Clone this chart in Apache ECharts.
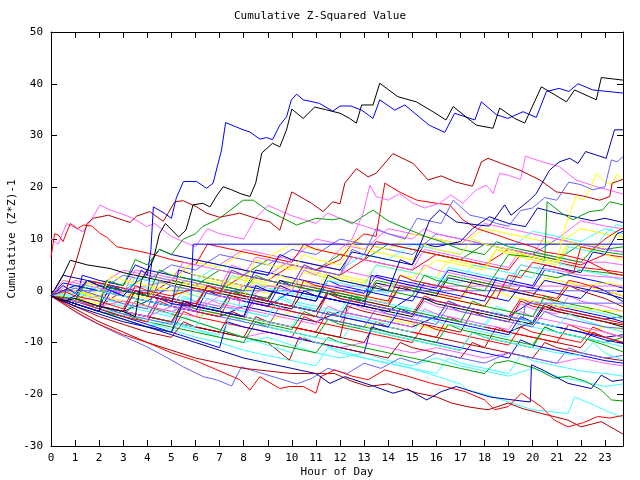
<!DOCTYPE html>
<html>
<head>
<meta charset="utf-8">
<script src="https://cdn.jsdelivr.net/npm/echarts@6/dist/echarts.min.js"></script>
<style>html,body{margin:0;padding:0;background:#fff}#c{width:640px;height:480px}</style>
</head>
<body>
<div id="c"></div>
<script>
// ---- axis / text ----
const TITLE = 'Cumulative Z-Squared Value';
const X_NAME = 'Hour of Day';
const Y_NAME = 'Cumulative (Z*Z)-1';
const X_MIN = 0, X_MAX = 23.75, Y_MIN = -30, Y_MAX = 50;

// ---- series data: [hour, cumulative value] ----
const L01 = [[0,-1],[0.5,-2],[1,-1.5],[2,-3],[3,-4],[3.5,-5],[3.75,2],[4.25,6],[4.5,11],[4.75,13],[5.3,10.4],[5.6,11.7],[5.9,16.6],[6.3,16.9],[6.6,16.2],[6.9,18.5],[7.15,20.1],[7.5,19.5],[7.85,18.8],[8.26,18.2],[8.5,20.8],[8.75,26.6],[9.2,28.5],[9.5,27.8],[9.78,31.1],[10,35.1],[10.47,33.3],[10.95,35.5],[11.4,35.0],[12,34.3],[12.4,33.3],[12.68,32.4],[12.9,35.9],[13.37,35.9],[13.65,40.1],[14.4,37.5],[15.17,36.5],[15.86,34.6],[16.4,33.0],[16.7,35.6],[17.66,32.0],[18.35,31.4],[18.63,35.3],[19.25,33.3],[19.67,32.4],[20.36,39.4],[20.8,38.2],[21.4,36.5],[21.74,38.8],[22.64,36.9],[22.85,41.2],[23.75,40.7]];
const L02 = [[0,-1],[0.5,1],[1,-0.5],[1.5,2],[2,1],[2.5,0],[3,-1],[3.5,1.5],[3.75,4],[4,3],[4.15,8],[4.25,16.2],[4.7,15],[5,14],[5.2,17.9],[5.5,21.1],[6.05,21.1],[6.46,19.8],[6.73,20.8],[7.08,27.2],[7.25,32.5],[7.98,31.1],[8.25,30.7],[8.67,29.3],[8.95,29.6],[9.2,29.2],[9.5,32.0],[9.78,33.6],[9.98,36.9],[10.2,38.0],[10.47,36.9],[10.88,36.5],[11.15,36.2],[11.7,34.7],[12,35.7],[12.45,35.7],[12.9,34.9],[13.37,33.3],[13.65,36.9],[14.27,34.9],[14.69,35.9],[15.7,32.0],[16.35,30.6],[16.76,34.3],[17.6,33.0],[17.87,36.5],[18.5,34.0],[18.97,33.3],[19.6,34.6],[20.15,33.5],[20.57,38.5],[21.1,39.1],[21.5,38.5],[21.88,40.0],[22.5,38.8],[23.75,38.2]];
const L03 = [[0,-1],[1,-3],[2,-4.5],[3,-6],[4,-7],[5,-8],[5.5,-2],[6,-3],[7,-4],[8,-5],[8.5,1],[9,0],[10,-1],[11,-2],[11.5,3],[12,2],[13,1],[14,0],[14.5,6],[15,5],[15.73,13.7],[16.14,15.6],[16.83,13.3],[17.73,12.7],[18.2,12.5],[18.84,16.6],[19.1,14.6],[19.87,17.5],[20.15,18.8],[20.7,23.3],[21.1,24.9],[21.54,25.6],[21.88,24.6],[22.2,26.9],[23.05,25.6],[23.4,31.1],[23.75,31.1]];
const L04 = [[0,-1],[1,0.5],[2,-1],[3,-2.5],[4,-3.5],[4.5,2],[5,1],[6,0],[7,-1],[7.5,4],[8,3],[9,2],[10,1],[10.5,5],[11,4],[12,3],[12.5,8],[13,7],[13.5,12],[14,11],[14.7,10],[15.2,14],[15.7,13.5],[16.2,13],[16.7,17.5],[17.4,14.6],[18,14],[18.5,13],[19,12.5],[19.5,15.5],[20,16],[20.5,18],[21,17.5],[21.5,21],[22,20.5],[22.5,19.5],[23,20.1],[23.27,25.3],[23.5,24.9],[23.75,25.9]];
const L05 = [[0,-1],[0.5,-1.5],[1,5],[1.5,13],[1.75,14],[2.38,14.6],[3.28,13.2],[3.55,14.4],[4.1,15.3],[4.66,13.4],[5.14,17.2],[5.49,17.4],[6.05,16.2],[6.46,15.0],[7.0,14.2],[7.84,15.0],[8.5,14],[9.09,13.3],[9.5,11.7],[10.0,19.1],[10.82,16.9],[11.3,15.3],[11.7,17.2],[12.0,16.8],[12.2,20.8],[12.68,23.6],[13.17,22.0],[13.5,22.7],[14.2,26.5],[15.04,24.6],[15.66,21.4],[16.2,22.2],[16.8,21.0],[17.5,20.2],[17.87,24.9],[18.15,25.6],[18.7,24.6],[19.46,23.3],[20.3,21.4],[20.98,19.1],[21.5,18.8],[22.1,18.3],[22.78,17.5],[23.2,18.2],[23.3,20.8],[23.75,21.5]];
const L06 = [[0,-1],[0.5,1],[1,0],[2,-1.5],[2.5,3],[3,2],[4,1],[5,0],[5.5,4],[6,3],[7,2],[8,1],[8.5,6],[9,5],[10,4],[10.5,7],[11,6],[12,5],[12.5,9],[13,8],[14,7],[15,6],[15.5,9],[16,8],[17,7],[17.5,10],[18,9],[19,8],[20,6.5],[21,5.5],[21.4,13],[21.8,18.2],[22.1,17.5],[22.44,20.1],[22.64,22.7],[23,21],[23.3,20.5],[23.5,22.5],[23.75,21.4]];
const L07 = [[0,-1],[1,-2],[2,-3],[3,-4],[4,-5],[5,-3],[6,-4],[7,-1],[8,-2],[9,1],[10,0],[10.5,4],[11,3],[12,8],[12.5,10],[12.96,15.0],[13.24,20.4],[13.5,18.2],[14,17.5],[14.48,18.8],[15,17],[15.5,16],[16.14,16.9],[16.6,18.5],[17.1,16.9],[17.66,19.5],[18.08,20.4],[18.36,18.8],[18.63,22.7],[19.0,22.3],[19.5,21.5],[19.7,26],[20.4,24.9],[21.1,24.0],[21.8,21.4],[22.65,20.1],[23.75,18.7]];
const L08 = [[0,-1],[1,-2],[1.5,2],[2,1],[3,0],[4,-1],[4.5,4],[5,3],[6,2],[7,1],[8,0],[8.5,3],[9,2],[10,1],[11,0],[12,-1],[13,-2],[13.5,1],[14,0],[15,-1],[15.5,3],[16,2],[17,1],[18,0],[18.5,3.5],[19,7],[20,6.5],[20.5,5.9],[20.6,17.2],[21.2,15],[21.67,13.7],[22,14.5],[22.36,15.3],[22.9,15.6],[23.2,17.2],[23.75,16.6]];
const L09 = [[0,-1],[1,-2],[2,-3],[2.3,2],[3,1],[3.5,6],[4,5],[4.5,8],[5,7],[5.5,10],[6,11],[6.3,12.4],[7,14],[7.98,17.5],[8.4,17.5],[9,15.5],[10.2,12.7],[11,14],[11.7,13.7],[12,14],[12.5,13],[13.37,15.6],[14,13.5],[14.5,12.5],[15.6,10.4],[16.2,9.5],[17,8],[18,7],[18.5,9.5],[19,8.5],[20,7.5],[21,6.5],[22,5.5],[22.5,8],[23,7.5],[23.75,7]];
const L10 = [[0,-1],[1,-2.5],[2,-4],[2.2,1],[3,0],[4,-1],[4.2,6],[4.5,8],[5,7],[6,6],[7,5],[8,4],[9,3],[9.5,7],[10,6],[11,5],[12,4],[12.5,7.5],[13,7],[14,6],[15,5],[15.5,9],[16,8.5],[17,9.5],[17.5,12],[18.2,14.3],[19,13],[19.7,12.4],[20.2,16],[21,15],[22,14],[22.5,13.5],[23,14],[23.75,13.2]];
const L11 = [[0,-1],[1,-2],[2,-3],[3,-4],[3.5,0],[4,-1],[5,-2],[6,-3],[6.5,1],[7,0],[8,-1],[9,-2],[10,-3],[10.5,2],[11,1],[12,0],[13,-1],[14,-2],[14.5,3],[15,2],[16,1],[17,0],[18,-1],[18.5,-1.5],[19,3],[19.5,2.5],[20,5.5],[21,4.5],[21.7,3.5],[22,8.5],[22.5,8],[23,10],[23.5,11.5],[23.75,12.1]];
const L12 = [[0,-1],[0.5,0],[1,-1],[2,-2],[3,-3.5],[3.5,1],[4,0],[5,-1],[6,0.5],[7,-0.5],[7.5,4],[8,3],[9,2],[10,1],[10.5,5],[11,4],[12,6],[12.5,9],[13,11],[13.5,10.5],[13.86,20.8],[14.5,19],[15.2,17.5],[16,16.9],[16.56,16.6],[17.1,13.7],[17.7,12],[18.5,10.8],[19.3,9.5],[20,8.5],[20.5,7.5],[21.3,6.9],[22.2,5.9],[22.8,4.5],[23.2,3.5],[23.75,3.0]];
const L13 = [[0,-1],[0.5,-2],[1,-1],[1.5,2],[2,1],[3,0],[4,-1],[4.5,-1.5],[5,-2.5],[5.8,-3],[5.9,9],[23.75,9]];
const L14 = [[0,-1],[1,-2],[1.5,1],[2,0],[3,-1],[4,-2],[5,-3],[5.5,0],[6,-1],[7,-2],[8,-3],[8.5,1],[9,0.5],[10,-0.5],[11,-1.5],[11.5,2],[12,1.5],[13,0.5],[14,-0.5],[14.5,3],[15,2],[16,1],[16.5,4.5],[17,4],[18,3],[19,2],[19.5,5],[20,4.5],[21,3.5],[21.5,8.5],[22,8],[22.5,7.5],[23,11],[23.5,12.8],[23.75,12.5]];
const L15 = [[0,-1],[1,1],[2,0],[3,-1],[4,-2],[5,-3],[6,-4],[6.5,0],[7,-1],[8,-2],[9,-3],[9.5,1],[10,0],[11,-1],[12,-2],[13,-3],[13.3,3],[14,2],[15,1],[16,0],[17,-1],[18,-2],[18.5,2.5],[19,2],[20,1],[20.5,5],[21,4.5],[22,3.5],[22.5,7.5],[23,7],[23.5,11],[23.75,11.5]];
const L16 = [[0,-1],[1,-2],[2,0],[3,-1],[4,-2],[4.5,1.5],[5,1],[6,0],[7,-1],[7.5,2.5],[8,2],[9,1],[10,0.5],[10.5,3.5],[11,3],[12,2],[13,1],[14,0],[14.5,3],[15,2.5],[16,6],[17,5],[18,4],[18.5,8],[19,7],[20,6],[21,5],[21.5,9],[22,8.5],[23,7],[23.75,5.9]];
const L17 = [[0,-1],[0.5,2],[1,1.5],[2,0.5],[3,-0.5],[3.5,4],[4,3.5],[5,2.5],[6,1.5],[7,0.5],[7.5,5],[8,4],[9,3],[10,6],[11,5],[12,4],[13,3],[14,2],[15,1],[15.5,5],[16,4],[17,3],[18,2],[19,1],[19.5,5],[20,4.5],[21,4],[22,3],[23,2.7],[23.75,2.4]];
const L18 = [[0,-1],[1,-2],[2,-3],[3,-2],[4,-3],[5,-4],[6,-2],[7,-3],[7.8,-3.5],[7.9,0.9],[23.75,0.9]];
const L19 = [[0,-1],[0.25,0],[23.75,0]];
const L20 = [[0,-1],[1,-2],[2,-3],[3,-4],[3.5,0],[4,-1],[5,-2],[6,-3],[6.5,1],[7,0],[8,-1],[9,-2],[9.5,2],[10,1],[11,0],[12,-1],[13,-2],[13.5,1.5],[14,1],[15,0],[16,-1],[16.5,2.5],[17,2],[18,1],[19,0],[20,-1],[20.5,2],[21,1.5],[22,0.5],[23,-0.5],[23.75,-1.5]];
const L21 = [[0,-1],[1,-2.5],[2,-4],[2.5,0],[3,-1],[4,-2],[5,-3],[5.3,4],[6,3],[7,2],[8,1],[9,0],[10,-1],[11,-2],[11.5,2],[12,1],[13,0],[14,-1],[15,-2],[15.5,1.5],[16,1],[17,0],[18,-1],[19,-2],[19.5,1],[20,0.5],[21,-0.5],[22,-1.5],[22.5,1],[23,0],[23.75,-2.1]];
const L22 = [[0,-1],[1,-2],[2,-3],[3,-4],[4,-5],[4.5,-1],[5,-2],[6,-3],[7,-4],[8,-5],[8.5,-1],[9,-2],[10,-3],[11,-4],[12,-5],[12.5,-1.5],[13,-2.5],[14,-3.5],[15,-4.5],[16,-5.5],[16.5,-2],[17,-3],[18,-4],[19,-5],[19.6,-5.5],[19.7,-2.4],[23.75,-2.4]];
const L23 = [[0,-1],[1,-2],[2,-3],[3,-4],[4,-5],[5,-6],[5.5,-2],[6,-3],[7,-4],[8,-5],[8.5,-1],[9,-2],[10,-3],[11,-4],[11.5,0],[12,-1],[13,-2],[14,-3],[14.5,1],[15,0],[16,-1],[17,-2],[18,-3],[18.5,0.5],[19,0],[20,-1],[21,-2],[21.5,1],[22,0],[23,-1.5],[23.75,-3.1]];
const L24 = [[0,-1],[1,0],[2,-1],[3,-2],[4,-3],[4.5,0.5],[5,0],[6,-1],[6.5,2],[7,1.5],[8,0.5],[9,-0.5],[9.5,3],[10,2],[11,1],[12,0],[13,-1],[14,-2],[14.5,1],[15,0],[16,-1],[17,-2],[18,-3],[18.5,0],[19,-1],[20,-2],[21,-3],[22,-3.5],[23,-3.8],[23.75,-4]];
const L25 = [[0,-1],[1,-2],[2,-3.5],[3,-5],[4,-6],[4.5,-2],[5,-3],[6,-4],[7,-5],[7.5,-1],[8,-2],[9,-3],[10,-4],[11,-5],[11.5,-0.5],[12,-1.5],[13,-2.5],[14,-3.5],[15,-4.5],[15.5,-1],[16,-2],[17,-3],[18,-4],[19,-5],[19.5,-1.5],[20,-2.5],[21,-3.5],[22,-4.5],[23,-5.5],[23.75,-6.3]];
const L26 = [[0,-1],[1,-2],[2,-3],[3,-4.5],[4,-5.5],[5,-6.5],[5.5,-3],[6,-4],[7,-5],[8,-6],[9,-7],[9.5,-3],[10,-4],[11,-5],[12,-6],[13,-7],[13.5,-3.5],[14,-4.5],[15,-5.5],[16,-6.5],[16.5,-3],[17,-4],[18,-5],[19,-6],[20,-7],[20.5,-4],[21,-5],[22,-6],[23,-7],[23.75,-7.3]];
const L27 = [[0,-1],[1,-1.5],[2,-3],[3,-4],[3.5,0],[4,-1],[5,-2],[6,-3],[7,-4],[7.5,0],[8,-1],[9,-2],[10,-3],[11,-4],[12,-5],[12.5,-1],[13,-2],[14,-3],[15,-4],[16,-5],[17,-6],[17.5,-2],[18,-3],[19,-4],[20,-5],[20.5,-1],[21,-2],[22,-3],[23,-4],[23.75,-5]];
const L28 = [[0,-1],[1,-0.5],[2,-1.5],[3,-2.5],[4,-3.5],[5,-4.5],[5.5,-1],[6,-2],[7,-3],[8,-4],[9,-5],[9.5,-1.5],[10,-2.5],[11,-3.5],[12,-4.5],[13,-5.5],[14,-6.5],[14.5,-3],[15,-4],[16,-5],[17,-6],[18,-7],[18.5,-4],[19,-5],[20,-6],[21,-7],[21.5,-4.5],[22,-5.5],[23,-7],[23.75,-8]];
const L29 = [[0,-1],[1,-2],[2,-3],[2.5,1],[3,0],[4,-1],[5,-2],[6,-3],[7,-4],[8,-5],[8.5,-1],[9,-2],[10,-3],[11,-4],[12,-5],[13,-6],[14,-7],[14.5,-3.5],[15,-4.5],[16,-5.5],[17,-6.5],[18,-7.5],[19,-8.5],[19.5,-5],[20,-6],[21,-7],[22,-8],[23,-9.5],[23.75,-10.2]];
const L30 = [[0,-1],[1,-2],[2,-3],[3,-4],[4,-5],[5,-6],[6,-7],[6.5,-3],[7,-4],[8,-5],[9,-6],[10,-7],[10.5,-3],[11,-4],[12,-5],[13,-6],[14,-7],[15,-8],[15.5,-5],[16,-6],[17,-7],[18,-8],[19,-9],[19.5,-6],[20,-7],[21,-8],[22,-9],[23,-10],[23.75,-10.8]];
const L31 = [[0,-1],[1,-2],[2,-3],[3,-4],[4,-5],[5,-6],[5.5,-2.5],[6,-3.5],[7,-4.5],[8,-5.5],[9,-6.5],[10,-7.5],[10.5,-4],[11,-5],[12,-6],[13,-7],[14,-8],[15,-9],[16,-10],[16.5,-6.5],[17,-7.5],[18,-8.5],[19,-9.5],[20,-10.5],[20.5,-7],[21,-8],[22,-9],[23,-10.5],[23.75,-11.8]];
const L32 = [[0,-1],[1,-2],[2,-3.5],[3,-4.5],[4,-5.5],[5,-6.5],[6,-7.5],[7,-8.5],[7.5,-5],[8,-6],[9,-7],[10,-8],[11,-9],[12,-10],[12.5,-6.5],[13,-7.5],[14,-8.5],[15,-9.5],[16,-10.5],[17,-11.5],[17.5,-8],[18,-9],[19,-10],[20,-11],[21,-12],[22,-12.5],[22.5,-10],[23,-12],[23.75,-13.4]];
const L33 = [[0,-1],[1,-2.5],[2,-4],[3,-5.5],[4,-7],[5,-8.5],[6,-10],[7,-11.5],[8,-13],[9,-14],[10,-15],[11,-16],[11.58,-17.9],[12.2,-16.6],[13.44,-18.5],[14.2,-19.8],[14.8,-19],[15.6,-21.1],[16.2,-19.5],[16.83,-18.5],[17.5,-19.5],[18.2,-20.5],[19,-21],[19.9,-21.5],[19.95,-14.3],[20.5,-15.5],[21.47,-17.9],[22.44,-18.9],[22.85,-16.3],[23.3,-17.5],[23.75,-17.2]];
const L34 = [[0,-1],[1,-2.5],[2,-4],[3,-5],[3.5,-2],[4,-3],[5,-4.5],[6,-6],[7,-7.5],[8,-9],[9,-10],[10,-11],[11,-12],[11.5,-9],[12,-10],[13,-11],[14,-12],[15,-13],[16,-14],[17,-15],[18,-16],[18.42,-14],[19,-13.5],[20.1,-15],[20.9,-16.9],[21.5,-16.5],[22.2,-17.5],[22.85,-19.2],[23.27,-21.1],[23.75,-21.3]];
const L35 = [[0,-1],[1,-4],[2,-6.5],[3,-8.5],[4,-10],[5,-12],[6,-13.5],[7,-15.5],[7.84,-17.2],[8.26,-19.2],[8.67,-16.6],[9.5,-18.9],[9.9,-18.5],[10.47,-18.5],[11,-19.8],[11.2,-16.6],[11.78,-15.3],[12.5,-16.5],[13.17,-17.2],[13.86,-15.3],[14.8,-16.5],[15.8,-17.9],[16.36,-18.5],[17.2,-19.5],[18.0,-21.1],[18.42,-23.0],[18.98,-22.4],[19.53,-19.8],[20.36,-22.4],[20.9,-25.0],[21.47,-26.3],[22.1,-25.5],[22.7,-24.3],[23.2,-24.6],[23.75,-24.1]];
const L36 = [[0,-1],[1,-3.5],[2,-6],[3,-8],[4,-10],[5,-11.5],[6,-13],[7,-14],[8,-15],[9,-15.5],[10,-16],[11,-16],[11.78,-16],[12.5,-17.5],[13.17,-18.5],[14,-18],[15.24,-19.8],[16,-20.5],[16.63,-21.7],[17.4,-22.5],[18.15,-23.0],[18.98,-21.7],[19.6,-22.8],[20.36,-23.7],[21.47,-25.0],[22.0,-26.3],[22.85,-25.3],[23.3,-26.5],[23.75,-27.7]];
const L37 = [[0,-1],[1,-2.5],[2,-4],[3,-5.5],[4,-7],[5,-8],[5.5,-5],[6,-6],[7,-7.5],[8,-9],[9,-10.5],[10,-12],[10.5,-9],[11,-10],[12,-11.5],[13,-13],[14,-14],[15,-15],[16,-16.5],[17,-18],[17.3,-19.2],[18,-20],[19,-21.5],[20,-23],[21,-23.5],[21.47,-23.7],[21.74,-20.5],[22.5,-22],[23.2,-23.5],[23.75,-24.5]];
const L38 = [[0,-1],[1.34,-5],[2.73,-8.2],[3.97,-10.8],[4.73,-12.7],[5.49,-14.7],[6.32,-16.6],[6.87,-17.2],[7.5,-18.4],[7.91,-14.7],[8.5,-15.6],[9.5,-17],[10.2,-18],[10.8,-17],[11.5,-15],[12.3,-16],[13,-14],[13.7,-15],[14.5,-13],[15.2,-14],[16,-12],[17,-13],[18,-14],[19,-12],[20,-13],[21,-14],[21.5,-11],[22,-12],[23,-13],[23.75,-12.5]];
const L39 = [[0,-1],[1,0],[2,-1],[3,-2],[4,-3],[5,-4],[6,-5],[6.5,-1.5],[7,-2.5],[8,-3.5],[9,-4.5],[10,-5.5],[11,-6.5],[11.5,-3],[12,-4],[13,-5],[14,-6],[15,-7],[15.5,-3.5],[16,-4.5],[17,-5.5],[18,-6.5],[19,-7.5],[19.5,-4],[20,-5],[21,-6],[22,-7],[23,-8],[23.75,-9]];
const L40 = [[0,-1],[1,-2],[2,-3],[3,-4],[4,-5],[4.5,-1],[5,-2],[6,-3],[7,-4],[8,-5],[9,-6],[10,-7],[11,-8],[11.5,-4],[12,-5],[13,-6],[14,-7],[15,-8],[16,-9],[16.5,-5],[17,-6],[18,-7],[19,-8],[20,-9],[21,-10],[21.5,-6.5],[22,-7.5],[23,-9],[23.75,-10]];
const L41 = [[0,-1],[1,-2],[2,-3],[3,-4],[4,-5],[5,-6],[6,-7],[7,-8],[7.5,-4],[8,-5],[9,-6],[10,-7],[11,-8],[12,-9],[12.3,-3],[13,-4],[14,-5],[15,-6],[16,-7],[17,-8],[17.5,-4],[18,-5],[19,-6],[19.5,-2],[20,-3],[21,-4],[22,-5],[23,-6],[23.75,-6.6]];
const L42 = [[0,-1],[0.5,3],[0.8,5.9],[1.5,5],[2.45,4.3],[3,3.5],[4,2.5],[5,1.5],[6,0.5],[7,-0.5],[8,-1.5],[9,-2.5],[10,-3.5],[10.5,0],[11,-1],[12,-2],[13,-3],[14,-4],[15,-5],[15.5,-1.5],[16,-2.5],[17,-3.5],[18,-4.5],[19,-5.5],[20,-6.5],[20.5,-3],[21,-4],[22,-5],[23,-6],[23.75,-7]];
const L43 = [[0,-1],[1,-2],[2,-1],[3,0],[4,1],[5,2],[5.5,5.5],[6,5],[7,4],[8,3],[8.5,6.5],[9,6],[10,5],[11,4],[12,3],[12.5,6.5],[13,6],[14,5],[15,4],[15.5,8],[16,7.5],[17,6.5],[18,5.5],[19,4.5],[19.5,8],[20,7.5],[21,6.5],[22,5.5],[23,5.5],[23.75,5]];
const L44 = [[0,-1],[1,1],[2,0],[3,-1],[3.5,2.5],[4,2],[5,1],[6,0],[7,-1],[7.5,3],[8,2],[9,1],[10,0],[10.5,4],[11,3],[12,2],[13,1],[13.5,5],[14,4.5],[15,3.5],[16,2.5],[17,1.5],[17.5,5],[18,4.5],[19,3.5],[20,2.5],[20.5,6],[21,5.5],[22,4],[23,3],[23.75,2]];
const L45 = [[0,-1],[0.5,2],[1,1.5],[2,0.5],[3,-0.5],[4,-1.5],[4.5,2],[5,1.5],[6,0.5],[7,-0.5],[7.5,3],[8,2.5],[9,1.5],[9.5,5],[10,4.5],[11,3.5],[12,2.5],[13,1.5],[13.5,5],[14,4.5],[15,3.5],[16,2.5],[16.5,6],[17,5.5],[18,4.5],[18.5,8],[19,7.5],[20,6.5],[21,5.5],[21.5,9.5],[22,9],[23,8.5],[23.5,11],[23.75,10]];
const L46 = [[0,-1],[1,-1.5],[2,-2.5],[2.5,1],[3,0],[4,-1],[5,-2],[6,-3],[6.5,0.5],[7,0],[8,-1],[8.5,2.5],[9,2],[10,1],[11,0],[12,-1],[13,-2],[13.5,1.5],[14,1],[15,0],[16,-1],[17,-2],[17.5,1.5],[18,1],[19,0],[20,-1],[21,-2],[21.5,1.5],[22,1],[23,0],[23.75,-1]];
const L47 = [[0,-1],[1,-2],[2,-3],[3,-4],[3.5,0],[4,-1],[5,-2],[5.5,2],[6,1.5],[7,0.5],[8,-0.5],[9,-1.5],[9.5,2],[10,1.5],[11,0.5],[12,-0.5],[13,-1.5],[13.5,2],[14,1.5],[15,0.5],[16,-0.5],[16.5,3],[17,2.5],[18,1.5],[19,0.5],[19.5,4],[20,3.5],[21,2.5],[22,4],[23,3.5],[23.75,3]];
const L48 = [[0,-1],[1,-1],[2,-2],[3,-3],[4,-4],[5,-5],[5.5,-1.5],[6,-2],[7,-3],[8,-4],[9,-5],[9.5,-1],[10,-2],[11,-3],[12,-4],[12.5,-0.5],[13,-1.5],[14,-2.5],[15,-3.5],[16,-4.5],[17,-5.5],[18,-6.5],[18.5,-3],[19,-4],[20,-5],[20.5,-1.5],[21,-2.5],[22,-3.5],[23,-4.5],[23.75,-5.5]];
const L49 = [[0,-1],[1,-2],[1.5,2],[2,1.5],[3,0.5],[4,-0.5],[5,-1.5],[6,-2.5],[6.5,1],[7,0.5],[8,-0.5],[9,-1.5],[9.5,2],[10,1.5],[11,0.5],[12,-0.5],[13,-1.5],[14,-2.5],[14.5,1],[15,0.5],[16,-0.5],[17,-1.5],[17.5,2],[18,1.5],[19,0.5],[20,-0.5],[21,-1.5],[21.5,2],[22,1.5],[23,0],[23.75,-1]];
const L50 = [[0,6.5],[0.15,11],[0.3,10.8],[0.5,9.5],[0.8,13],[1.1,12],[1.34,12.7],[1.7,12.5],[2.03,11.1],[2.3,10.4],[2.73,8.5],[3.5,7.8],[4.1,7.2],[5,6],[6,5],[6.5,9],[7,8.5],[8,7.5],[9,6.5],[10,5.5],[10.5,9],[11,8],[12,7],[13,6],[13.5,9.5],[14,9],[15,8],[16,7],[17,6],[18,5],[19,4],[19.5,7],[20,6.5],[21,5.5],[22,4.5],[23,4],[23.75,3.5]];
const L51 = [[0,10],[0.3,9],[0.65,13],[1.34,11.4],[1.75,14.3],[2.03,16.6],[2.45,15.6],[2.86,15.0],[3.4,14.0],[3.97,12.4],[4.3,13],[5,10.5],[5.5,9.5],[6,8.5],[6.5,12],[7,11],[8,10],[8.5,14],[9,16.5],[9.5,15.5],[10,14.5],[11,13],[11.5,15],[12,14],[13,12.5],[14,11],[15,10],[15.5,12],[16,11],[17,10],[18,9],[19,8],[20,7],[20.5,10.5],[21,10],[22,9],[23,8],[23.75,7.5]];
const L52 = [[0,-1],[1,-3],[2,-5],[3,-6.5],[4,-8],[5,-9],[5.5,-6],[6,-7],[7,-8],[8,-9],[9,-10],[9.9,-13.4],[10.3,-9],[11,-10],[12,-11],[13,-12],[14,-13],[14.5,-10],[15,-11],[16,-12],[17,-13],[17.5,-10],[18,-11],[19,-12],[20,-13],[20.5,-10],[21,-11],[22,-12],[23,-13],[23.75,-13.5]];
const L53 = [[0,-1],[1,-2],[2,-3.5],[3,-5],[4,-6.5],[5,-8],[6,-9.5],[7,-11],[7.3,-6],[8,-7],[9,-8],[10,-9],[11,-10],[12,-11],[13,-12],[13.3,-7],[14,-8],[15,-9],[16,-10],[17,-11],[18,-12],[19,-13],[19.5,-9.5],[20,-10.5],[21,-11.5],[22,-12.5],[23,-13.5],[23.75,-14]];
const L54 = [[0,-1],[1,-2],[2,-3.5],[3,-5],[4,-6],[5,-7.5],[6,-9],[7,-10],[8,-11.5],[9,-12.5],[10,-13.5],[11,-14.5],[11.5,-11],[12,-12],[13,-13],[14,-14],[15,-15],[16,-16],[16.5,-13],[17,-14],[18,-15],[19,-16],[19.5,-12.5],[20,-13.5],[21,-14.5],[22,-15.5],[23,-16],[23.75,-16.5]];
const L55 = [[0,-1],[1,-2],[2,-3],[3,-4.5],[4,-6],[5,-7],[6,-8],[7,-9],[8,-10],[8.5,-6],[9,-7],[10,-8],[11,-9],[11.5,-5.5],[12,-6.5],[13,-7.5],[14,-8.5],[15,-9.5],[16,-10.5],[17,-11.5],[17.5,-8],[18,-9],[19,-10],[20,-11],[20.5,-7],[21,-8],[22,-9],[23,-10],[23.75,-9]];
const L56 = [[0,-1],[0.5,3],[1,2.5],[2,1.5],[3,0.5],[4,-0.5],[5,-1.5],[6,-2.5],[7,-3.5],[7.5,0],[8,-1],[9,-2],[10,-3],[11,-4],[11.5,-0.5],[12,-1.5],[13,-2.5],[14,-3.5],[15,-4.5],[16,-5.5],[16.5,-2],[17,-3],[18,-4],[19,-5],[20,-6],[20.5,-2.5],[21,-3.5],[22,-4.5],[23,-5.5],[23.75,-5]];
const L57 = [[0,-1],[1,-2],[2,-3],[3,-4],[4,-5],[4.5,-1.5],[5,-2.5],[6,-3.5],[7,-4.5],[8,-5.5],[8.5,-2],[9,-3],[10,-4],[11,-5],[12,-6],[12.5,-2.5],[13,-3.5],[14,-4.5],[15,-5.5],[15.5,-2],[16,-3],[17,-4],[18,-5],[19,-6],[19.5,-2.5],[20,-3.5],[21,-4.5],[21.5,-1],[22,-2],[23,-3],[23.75,-4]];
const L58 = [[0,-1],[1,-2],[1.5,1.5],[2,1],[3,0],[4,-1],[5,-2],[5.5,1.5],[6,1],[7,0],[8,-1],[9,-2],[9.5,1.5],[10,1],[11,0],[11.5,3.5],[12,3],[13,2],[14,1],[15,0],[16,-1],[16.5,2.5],[17,2],[18,1],[19,0],[20,-1],[20.5,2.5],[21,2],[22,1],[23,1.5],[23.75,1]];
const L59 = [[0,-1],[0.5,-2],[1,-3],[1.3,3],[2,2],[3,1],[3.5,5],[4,4],[5,3],[6,2],[7,1],[8,0],[8.5,4],[9,3.5],[10,2.5],[11,1.5],[12,0.5],[13,-0.5],[13.5,3],[14,2.5],[15,1.5],[16,0.5],[16.5,4],[17,3.5],[18,2.5],[19,1.5],[20,0.5],[20.5,4],[21,3.5],[22,2.5],[23,1.5],[23.75,0.5]];
const L60 = [[0,-1],[1,-2.5],[2,-4],[3,-5.5],[4,-7],[5,-8],[5.5,-4],[6,-5],[7,-6],[8,-7],[9,-8],[10,-9],[10.5,-5],[11,-6],[12,-7],[13,-8],[14,-9],[15,-10],[15.5,-6.5],[16,-7.5],[17,-8.5],[18,-9.5],[19,-10.5],[19.5,-7],[20,-8],[21,-9],[22,-10],[22.5,-7],[23,-8],[23.75,-9]];
const L61 = [[0,-1],[1,0.5],[2,2],[3,1],[4,4],[5,3],[6,5.5],[7,4.5],[8,7.5],[9,6.5],[10,9],[11,8],[12,7],[12.5,10],[13,9],[14,8],[15,11],[16,10],[17,9],[18,12],[19,11],[20,10],[21,9],[22,12],[23,11],[23.75,10.5]];
const L62 = [[0,-1],[1,0],[2,-1],[3,1.5],[4,0.5],[5,3],[6,2],[7,5],[8,4],[9,3],[10,6],[11,5],[12,4],[13,7],[14,6],[15,9],[16,8],[17,7],[17.5,10],[18,9],[19,8],[20,11.5],[21,10.5],[22,9.5],[23,12],[23.75,11]];
const L63 = [[0,-1],[1,1],[2,0],[3,3],[4,2],[5,5],[6,4],[7,7],[8,6],[9,5],[10,8],[11,7],[12,10],[13,9],[14,8],[15,7],[16,11],[17,10],[18,9],[19,8],[20,7],[21,10],[22,9],[23,8],[23.75,7.5]];
const L64 = [[0,-1],[1,2],[2,1],[3,4],[4,3],[5,2],[6,6],[7,5],[8,8],[9,7],[10,6],[11,10],[12,9],[13,8],[14,12],[15,11],[16,10],[17,9],[18,13],[19,12],[20,11],[21,10],[22,13.5],[23,12.5],[23.75,12]];
const L65 = [[0,-1],[1,-2],[2,1],[3,0],[4,3],[5,2],[6,1],[7,4],[8,3],[9,6],[10,5],[11,4],[12,7],[13,6],[14,9],[15,8],[16,7],[17,6],[18,9],[19,8],[20,7],[21,6],[22,9],[23,8],[23.75,8.5]];
const L66 = [[0,-1],[1,-2],[2,-3],[3,0],[4,-1],[5,2],[6,1],[7,0],[8,3],[9,2],[10,5],[11,4],[12,3],[13,6],[14,5],[15,4],[16,7],[17,6],[18,5],[19,8],[20,7],[21,6],[22,5],[23,7],[23.75,6.5]];
const L67 = [[0,-1],[1,-2],[2,-3],[3,-4],[4,-2],[5,-3],[6,-4],[7,-5],[8,-3],[9,-4],[10,-5],[11,-6],[12,-4],[13,-5],[14,-6],[15,-7],[16,-5],[17,-6],[18,-7],[19,-8],[20,-6],[21,-7],[22,-8],[23,-9],[23.75,-8.5]];
const L68 = [[0,-1],[1,-2.5],[2,-4],[3,-5.5],[4,-7],[5,-6],[6,-7.5],[7,-9],[8,-10],[9,-9],[10,-10.5],[11,-12],[12,-13],[13,-12],[14,-13.5],[15,-14.5],[16,-13],[17,-14.5],[18,-15.5],[19,-16.5],[20,-15],[21,-16.5],[22,-17.5],[23,-18.5],[23.75,-18]];
const L69 = [[0,-1],[1,-2],[2,-3],[3,-2],[4,-3],[5,-4],[6,-5],[7,-4],[8,-5],[9,-6],[10,-4],[11,-5],[12,-6],[13,-7],[14,-5.5],[15,-6.5],[16,-7.5],[17,-6],[18,-7],[19,-8],[20,-6],[21,-7],[22,-8],[23,-7],[23.75,-7.5]];
const L70 = [[0,-1],[1,-2],[2,-3],[3,-4],[4,-5],[5,-6],[6,-7],[7,-8],[8,-9],[8.5,-5],[9,-6],[10,-7],[11,-8],[12,-9],[13,-10],[13.5,-6],[14,-7],[15,-8],[16,-9],[17,-10],[18,-11],[18.5,-7],[19,-8],[20,-9],[21,-10],[22,-11],[22.5,-8],[23,-9],[23.75,-10]];
const L71 = [[0,-1],[0.5,1.5],[1,1],[2,0],[3,-1],[4,-2],[5,1],[6,0],[7,-1],[8,-2],[9,-3],[10,0],[11,-1],[12,-2],[13,-3],[14,-4],[15,-1],[16,-2],[17,-3],[18,-4],[19,-5],[20,-2],[21,-3],[22,-4],[23,-5],[23.75,-6]];
const L72 = [[0,-1],[1,-2],[2,-3],[3,-4],[4,-5],[5,-6],[6,-7],[7,-8],[8,-9],[9,-8],[10,-9],[11,-10],[12,-11],[13,-10],[14,-11],[15,-12],[16,-11],[17,-12],[18,-13],[19,-12],[20,-13],[21,-14],[22,-13],[23,-14],[23.75,-14.5]];

const SERIES_DATA = [L01,L02,L03,L04,L05,L06,L07,L08,L09,L10,L11,L12,L13,L14,L15,L16,L17,L18,L19,L20,
  L21,L22,L23,L24,L25,L26,L27,L28,L29,L30,L31,L32,L33,L34,L35,L36,L37,L38,L39,L40,
  L41,L42,L43,L44,L45,L46,L47,L48,L49,L50,L51,L52,L53,L54,L55,L56,L57,L58,L59,L60,
  L61,L62,L63,L64,L65,L66,L67,L68,L69,L70,L71,L72];

// ---- colours (style, kept separate) ----
const K='#000000', B='#0000ff', DB='#0000a8', SB='#6464ff', R='#ff0000', DR='#b40000', G='#00a000', M='#ff64ff', C='#40ffff', Y='#ffff00';
const SERIES_COLORS = [K,B,DB,SB,DR,Y,M,G,G,DB, R,R,B,C,B,Y,M,M,SB,DB,
  B,SB,DR,Y,R,SB,G,C,B,C, G,C,DB,G,R,DR,C,SB,M,R,
  DR,K,M,C,Y,Y,G,C,R,R, M,DR,B,C,G,DB,M,Y,B,R,
  Y,C,SB,M,G,R,DB,C,Y,DR,B,M];

const FONT = 'DejaVu Sans Mono';
const series = SERIES_DATA.map((d, i) => ({
  type: 'line', data: d, showSymbol: false, silent: true,
  lineStyle: { width: 1, color: SERIES_COLORS[i] }, itemStyle: { color: SERIES_COLORS[i] },
  z: 2 + (SERIES_DATA.length - i) / 1000
}));

const chart = echarts.init(document.getElementById('c'), null, { renderer: 'canvas' });
const axisLine = { show: true, onZero: false, lineStyle: { color: '#000', width: 1 } };
const tick = { show: true, inside: true, length: 6, lineStyle: { color: '#000' } };
chart.setOption({
  animation: false,
  backgroundColor: '#fff',
  title: { text: TITLE, left: 'center', top: 6, textStyle: { fontFamily: FONT, fontSize: 11, fontWeight: 'normal', color: '#000' } },
  grid: { left: 51, right: 17, top: 32, bottom: 34, containLabel: false, outerBoundsMode: 'none' },
  xAxis: [
    { type: 'value', min: X_MIN, max: X_MAX, interval: 1, position: 'bottom',
      name: X_NAME, nameLocation: 'middle', nameGap: 21, nameMoveOverlap: false,
      nameTextStyle: { fontFamily: FONT, fontSize: 11, color: '#000' },
      axisLine, axisTick: tick, splitLine: { show: false },
      axisLabel: { fontFamily: FONT, fontSize: 11, color: '#000', margin: 7, showMaxLabel: false,
        formatter: v => Number.isInteger(v) ? String(v) : '' } },
    { type: 'value', min: X_MIN, max: X_MAX, interval: 1, position: 'top',
      axisLine, axisTick: tick, splitLine: { show: false }, axisLabel: { show: false } }
  ],
  yAxis: [
    { type: 'value', min: Y_MIN, max: Y_MAX, interval: 10, position: 'left',
      name: Y_NAME, nameLocation: 'middle', nameGap: 33, nameRotate: 90, nameMoveOverlap: false,
      nameTextStyle: { fontFamily: FONT, fontSize: 11, color: '#000' },
      axisLine, axisTick: tick, splitLine: { show: false },
      axisLabel: { fontFamily: FONT, fontSize: 11, color: '#000', margin: 8 } },
    { type: 'value', min: Y_MIN, max: Y_MAX, interval: 10, position: 'right',
      axisLine, axisTick: tick, splitLine: { show: false }, axisLabel: { show: false } }
  ],
  series
});
</script>
</body>
</html>
